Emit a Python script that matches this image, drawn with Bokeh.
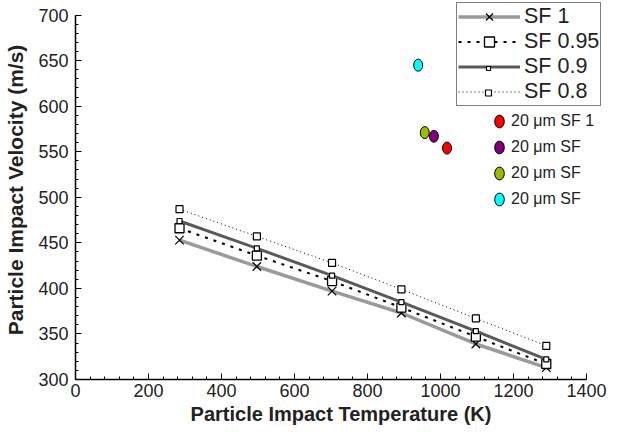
from bokeh.plotting import figure
from bokeh.models import FixedTicker, Legend, LegendItem
from bokeh.embed import file_html
from bokeh.resources import INLINE

# ---- data ----
temperature = [285, 497, 703, 893, 1097, 1290]
sf_1 = [453, 424, 397, 373, 339, 313]
sf_095 = [466, 436, 408, 379, 347, 317]
sf_09 = [474, 444, 414, 385, 353, 322]
sf_08 = [487, 457, 428, 399, 367, 337]

pt_temperature = [1018, 982, 957, 939]
pt_velocity = [554, 567, 571, 645]
pt_labels = ["20 \u03bcm SF 1", "20 \u03bcm SF", "20 \u03bcm SF", "20 \u03bcm SF"]
pt_colors = ["#ff0000", "#800080", "#99bb00", "#00ffff"]

x_ticks = [0, 200, 400, 600, 800, 1000, 1200, 1400]
y_ticks = [300, 350, 400, 450, 500, 550, 600, 650, 700]

FONT = "Liberation Sans"

# frame extends a little beyond the axes (room for the legend box)
p = figure(width=609, height=429, output_backend="svg", toolbar_location=None,
           x_range=(0, 1455), y_range=(300, 716),
           min_border_left=75, min_border_right=3, min_border_top=0, min_border_bottom=50)
p.outline_line_color = None
p.xgrid.visible = False
p.ygrid.visible = False
p.background_fill_color = "white"
p.border_fill_color = "white"

p.xaxis.ticker = FixedTicker(ticks=x_ticks, minor_ticks=list(range(0, 1401, 40)))
p.yaxis.ticker = FixedTicker(ticks=y_ticks, minor_ticks=list(range(300, 701, 10)))
p.xaxis.bounds = (0, 1400)
p.yaxis.bounds = (300, 700)
for ax in (p.xaxis[0], p.yaxis[0]):
    ax.axis_line_color = "black"
    ax.axis_line_width = 1.5
    ax.major_tick_in = 6
    ax.major_tick_out = 0
    ax.minor_tick_in = 3
    ax.minor_tick_out = 0
    ax.major_tick_line_color = "black"
    ax.minor_tick_line_color = "black"
    ax.major_label_text_font = FONT
    ax.major_label_text_font_size = "18px"
    ax.major_label_text_color = "#222222"
    ax.axis_label_text_font = FONT
    ax.axis_label_text_font_style = "bold"
    ax.axis_label_text_color = "#222222"
p.xaxis.axis_label = "Particle Impact Temperature (K)"
p.yaxis.axis_label = "Particle Impact Velocity (m/s)"
p.xaxis.axis_label_text_font_size = "20px"
p.yaxis.axis_label_text_font_size = "21px"
p.xaxis.major_label_standoff = 4
p.xaxis.axis_label_standoff = 3
p.yaxis.major_label_standoff = 7
p.yaxis.axis_label_standoff = 8

# lines
l1 = p.line(temperature, sf_1, line_color="#9a9a9a", line_width=3.5)
m1 = p.scatter(temperature, sf_1, marker="x", size=12, line_color="black", line_width=1.2)

l2 = p.line(temperature, sf_095, line_color="black", line_width=2, line_dash="3 6")
m2 = p.scatter(temperature, sf_095, marker="square", size=9, fill_color="white",
               line_color="black", line_width=1.3)

l3 = p.line(temperature, sf_09, line_color="#5a5a5a", line_width=3)
m3 = p.scatter(temperature, sf_09, marker="square", size=5, fill_color="white",
               line_color="black", line_width=1.2)

l4 = p.line(temperature, sf_08, line_color="black", line_width=1, line_dash="1 3")
m4 = p.scatter(temperature, sf_08, marker="square", size=7, fill_color="white",
               line_color="black", line_width=1.2)

pts = []
for i in range(len(pt_temperature)):
    r = p.ellipse(x=[pt_temperature[i]], y=[pt_velocity[i]], width=9, height=12,
                  width_units="screen", height_units="screen",
                  fill_color=pt_colors[i], line_color="black", line_width=1)
    pts.append(r)

# main bordered legend
leg1 = Legend(items=[
    LegendItem(label="SF 1", renderers=[l1, m1]),
    LegendItem(label="SF 0.95", renderers=[l2, m2]),
    LegendItem(label="SF 0.9", renderers=[l3]),
    LegendItem(label="SF 0.8", renderers=[l4]),
], location=(381, 273))
leg1.border_line_color = "black"
leg1.border_line_width = 1.5
leg1.background_fill_color = "white"
leg1.background_fill_alpha = 1
leg1.label_text_font = FONT
leg1.label_text_font_size = "21.5px"
leg1.label_text_color = "#222222"
leg1.glyph_width = 62
leg1.glyph_height = 25
leg1.label_height = 25
leg1.label_standoff = 4
leg1.spacing = 0
leg1.padding = 1
leg1.margin = 0
p.add_layout(leg1, "center")


def marker_overlay(renderer, gh, loc):
    lg = Legend(items=[LegendItem(label=" ", renderers=[renderer])], location=loc)
    lg.border_line_alpha = 0
    lg.background_fill_alpha = 0
    lg.label_text_font_size = "1px"
    lg.glyph_width = 62
    lg.glyph_height = gh
    lg.label_height = gh
    lg.label_standoff = 0
    lg.padding = 0
    lg.spacing = 0
    lg.margin = 0
    return lg


p.add_layout(marker_overlay(m3, 10, (382, 306.5)), "center")
p.add_layout(marker_overlay(m4, 15, (382, 279)), "center")

leg2 = Legend(items=[LegendItem(label=pt_labels[i], renderers=[pts[i]]) for i in range(4)],
              location=(414, 168))
leg2.border_line_alpha = 0
leg2.background_fill_alpha = 0
leg2.label_text_font = FONT
leg2.label_text_font_size = "16px"
leg2.label_text_color = "#222222"
leg2.glyph_width = 16
leg2.glyph_height = 20
leg2.label_height = 20
leg2.label_standoff = 4
leg2.spacing = 6
leg2.padding = 2
leg2.margin = 0
p.add_layout(leg2, "center")

open("out.html", "w").write(file_html(p, INLINE))
